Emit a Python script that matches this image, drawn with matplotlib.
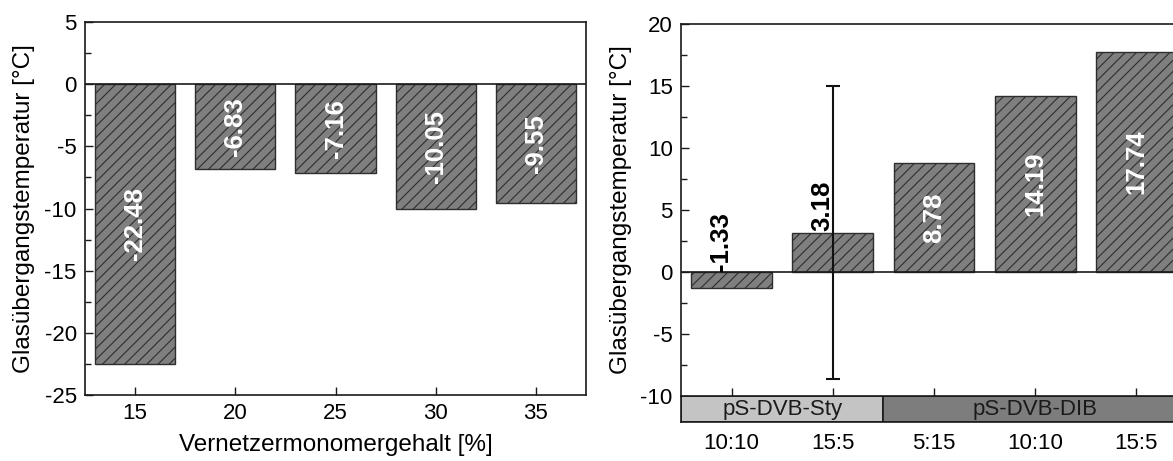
import matplotlib
matplotlib.use("Agg")
import matplotlib.pyplot as plt
from matplotlib.ticker import MultipleLocator
from matplotlib.patches import Rectangle

plt.rcParams['font.family'] = ['Liberation Sans', 'DejaVu Sans']
plt.rcParams['hatch.linewidth'] = 0.8
plt.rcParams['axes.unicode_minus'] = False

# ---- data ----
left_x = [15, 20, 25, 30, 35]
left_vals = [-22.48, -6.83, -7.16, -10.05, -9.55]

right_cats = ['10:10', '15:5', '5:15', '10:10', '15:5']
right_vals = [-1.33, 3.18, 8.78, 14.19, 17.74]
right_err_idx = 1
right_err = 11.8

groups = ['pS-DVB-Sty', 'pS-DVB-DIB']
group_sizes = [2, 3]

left_xlabel = 'Vernetzermonomergehalt [%]'
ylabel = 'Glasübergangstemperatur [°C]'

# ---- style ----
FACE = '#7f7f7f'
EDGE = '#2e2e2e'
SPINE = '#1a1a1a'
TICK_FS = 16
LABEL_FS = 17.5
VAL_FS = 18.5

W, H = 1173, 461
fig = plt.figure(figsize=(W / 100, H / 100), dpi=100)


def px_axes(left, top, right, bottom):
    return fig.add_axes([left / W, (H - bottom) / H, (right - left) / W, (bottom - top) / H])


def style_axes(ax):
    for s in ax.spines.values():
        s.set_color(SPINE)
        s.set_linewidth(1.2)
    ax.tick_params(axis='both', which='major', direction='in', length=5.5, width=1.0,
                   labelsize=TICK_FS, color=SPINE, top=False, right=False)
    ax.tick_params(axis='y', which='minor', direction='in', length=4, width=1.0,
                   color=SPINE, right=False)
    ax.tick_params(axis='y', pad=6)
    ax.tick_params(axis='x', pad=6)


# ---- left panel ----
axL = px_axes(85, 22, 586, 395)
axL.bar(left_x, left_vals, width=4, color=FACE, edgecolor=EDGE, hatch='///',
        linewidth=1.0, zorder=2)
axL.axhline(0, color=SPINE, lw=1.2, zorder=3)
axL.set_xlim(12.5, 37.5)
axL.set_ylim(-25, 5)
axL.set_xticks(left_x)
axL.yaxis.set_major_locator(MultipleLocator(5))
axL.yaxis.set_minor_locator(MultipleLocator(2.5))
style_axes(axL)
axL.set_xlabel(left_xlabel, fontsize=LABEL_FS)
axL.xaxis.set_label_coords(0.5, (395 - 445) / 373)
axL.xaxis.label.set_va('center')
axL.set_ylabel(ylabel, fontsize=LABEL_FS)
axL.yaxis.set_label_coords((24 - 85) / 501, 0.5)
axL.yaxis.label.set_va('center')
for x, v in zip(left_x, left_vals):
    axL.text(x, v / 2, f'{v:.2f}', rotation=90, ha='center', va='center',
             color='white', fontsize=VAL_FS, fontweight='bold', zorder=4)

# ---- right panel ----
axR = px_axes(681, 24, 1187, 396)
xs = list(range(len(right_vals)))
axR.bar(xs, right_vals, width=0.8, color=FACE, edgecolor=EDGE, hatch='///',
        linewidth=1.0, zorder=2)
axR.errorbar([xs[right_err_idx]], [right_vals[right_err_idx]], yerr=[right_err],
             fmt='none', ecolor='#111111', elinewidth=1.5, capsize=5, capthick=1.5, zorder=5)
axR.axhline(0, color=SPINE, lw=1.2, zorder=3)
axR.set_xlim(-0.5, len(right_vals) - 0.5)
axR.set_ylim(-10, 20)
axR.set_xticks(xs)
axR.set_xticklabels([])
axR.yaxis.set_major_locator(MultipleLocator(5))
axR.yaxis.set_minor_locator(MultipleLocator(2.5))
style_axes(axR)
axR.spines['bottom'].set_visible(False)
axR.set_ylabel(ylabel, fontsize=LABEL_FS)
axR.yaxis.set_label_coords((621 - 681) / 506, 0.5)
axR.yaxis.label.set_va('center')
for x, v in zip(xs, right_vals):
    if abs(v) < 5:
        axR.text(x - 0.1, max(v, 0) + 0.1, f'{v:.2f}', rotation=90, ha='center',
                 va='bottom', color='black', fontsize=VAL_FS, fontweight='bold', zorder=4)
    else:
        axR.text(x, v / 2, f'{v:.2f}', rotation=90, ha='center', va='center',
                 color='white', fontsize=VAL_FS, fontweight='bold', zorder=4)

# ---- group band below right panel ----
axB = px_axes(681, 396, 1187, 422)
axB.set_xlim(-0.5, len(right_vals) - 0.5)
axB.set_ylim(0, 1)
band_colors = ['#c4c4c4', '#7d7d7d']
start = -0.5
for name, n, c in zip(groups, group_sizes, band_colors):
    axB.add_patch(Rectangle((start, 0), n, 1, facecolor=c, edgecolor=SPINE, lw=1.2))
    axB.text(start + n / 2, 0.5, name, ha='center', va='center', fontsize=TICK_FS,
             color='#1a1a1a')
    start += n
axB.set_yticks([])
axB.set_xticks(xs)
axB.set_xticklabels(right_cats)
axB.tick_params(axis='x', length=0, labelsize=TICK_FS, pad=8)
for s in axB.spines.values():
    s.set_color(SPINE)
    s.set_linewidth(1.2)

fig.savefig('out.png', dpi=100)
